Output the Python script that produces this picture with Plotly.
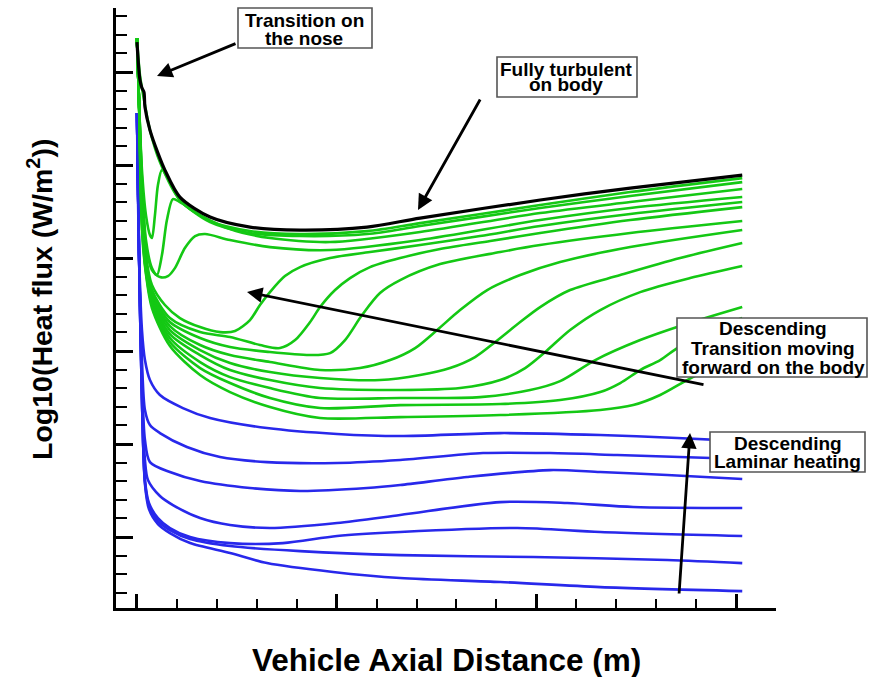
import plotly.graph_objects as go

# ---------------- data (x: axial distance, y: log10 heat flux) ----------------
# fully turbulent body
turb_x = [0, 0.015, 0.025, 0.035, 0.040, 0.065, 0.105, 0.140, 0.215, 0.366, 0.566, 0.817, 1.152, 1.418, 2.019, 2.470, 3.031]
turb_y = [8.323, 7.914, 7.828, 7.785, 7.624, 7.376, 7.129, 6.946, 6.656, 6.441, 6.333, 6.301, 6.333, 6.430, 6.624, 6.753, 6.892]

# transitional cases, transition point moving aft
g0_x = [0, 0.015, 0.040, 0.065, 0.115, 0.215, 0.366, 0.566, 0.817, 1.152, 1.418, 2.019, 2.470, 3.031]
g0_y = [8.366, 7.968, 7.645, 7.376, 7.032, 6.624, 6.398, 6.290, 6.258, 6.290, 6.376, 6.570, 6.710, 6.860]

g1_x = [0, 0.010, 0.025, 0.045, 0.065, 0.075, 0.090, 0.105, 0.125, 0.155, 0.215, 0.366, 0.566, 0.817, 1.152, 1.418, 2.019, 2.470, 3.031]
g1_y = [8.366, 7.699, 6.946, 6.462, 6.247, 6.215, 6.462, 6.785, 6.946, 6.860, 6.624, 6.387, 6.269, 6.237, 6.258, 6.344, 6.538, 6.667, 6.817]

g2_x = [0, 0.010, 0.025, 0.045, 0.075, 0.100, 0.125, 0.150, 0.180, 0.215, 0.316, 0.466, 0.666, 0.967, 1.418, 2.019, 2.470, 3.031]
g2_y = [8.366, 7.699, 6.839, 6.194, 5.892, 5.817, 6.032, 6.409, 6.634, 6.602, 6.462, 6.312, 6.215, 6.172, 6.280, 6.484, 6.602, 6.742]

g3_x = [0, 0.010, 0.025, 0.045, 0.075, 0.115, 0.155, 0.190, 0.240, 0.291, 0.341, 0.466, 0.666, 0.967, 1.418, 2.019, 2.470, 3.031]
g3_y = [8.366, 7.699, 6.839, 6.140, 5.871, 5.796, 5.806, 5.892, 6.108, 6.237, 6.258, 6.194, 6.118, 6.086, 6.194, 6.409, 6.538, 6.656]

g4_x = [0, 0.010, 0.025, 0.045, 0.075, 0.140, 0.215, 0.316, 0.416, 0.491, 0.566, 0.616, 0.666, 0.741, 0.817, 0.967, 1.167, 1.418, 1.718, 2.019, 2.470, 3.031]
g4_y = [8.366, 7.699, 6.731, 6.032, 5.710, 5.495, 5.355, 5.258, 5.204, 5.215, 5.333, 5.495, 5.634, 5.806, 5.903, 6.000, 6.065, 6.140, 6.237, 6.344, 6.473, 6.602]

g5_x = [0, 0.010, 0.025, 0.045, 0.075, 0.165, 0.316, 0.466, 0.616, 0.716, 0.792, 0.867, 0.917, 0.992, 1.067, 1.167, 1.318, 1.518, 1.769, 2.019, 2.470, 3.031]
g5_y = [8.366, 7.699, 6.677, 5.978, 5.656, 5.355, 5.204, 5.151, 5.065, 5.032, 5.118, 5.312, 5.473, 5.656, 5.785, 5.903, 6.000, 6.097, 6.183, 6.269, 6.409, 6.548]

g6_x = [0, 0.010, 0.025, 0.045, 0.075, 0.165, 0.316, 0.466, 0.666, 0.867, 0.967, 1.042, 1.127, 1.217, 1.318, 1.518, 1.819, 2.019, 2.470, 3.031]
g6_y = [8.366, 7.699, 6.624, 5.957, 5.634, 5.312, 5.140, 5.043, 4.989, 4.957, 4.978, 5.118, 5.387, 5.624, 5.763, 5.935, 6.065, 6.140, 6.269, 6.398]

g7_x = [0, 0.010, 0.025, 0.045, 0.075, 0.165, 0.316, 0.466, 0.666, 0.917, 1.117, 1.268, 1.393, 1.503, 1.618, 1.754, 1.919, 2.119, 2.470, 3.031]
g7_y = [8.366, 7.699, 6.570, 5.935, 5.602, 5.269, 5.065, 4.957, 4.882, 4.796, 4.817, 4.903, 5.032, 5.226, 5.441, 5.656, 5.817, 5.957, 6.118, 6.301]

g8_x = [0, 0.010, 0.025, 0.045, 0.075, 0.165, 0.316, 0.466, 0.666, 0.917, 1.217, 1.418, 1.568, 1.693, 1.794, 1.919, 2.019, 2.169, 2.420, 2.720, 3.031]
g8_y = [8.366, 7.699, 6.516, 5.914, 5.570, 5.226, 5.011, 4.871, 4.774, 4.710, 4.688, 4.742, 4.817, 4.935, 5.097, 5.312, 5.473, 5.656, 5.817, 6.000, 6.161]

g9_x = [0, 0.010, 0.025, 0.045, 0.075, 0.165, 0.316, 0.466, 0.666, 0.917, 1.318, 1.618, 1.819, 1.944, 2.044, 2.169, 2.320, 2.520, 2.770, 3.031]
g9_y = [8.366, 7.699, 6.462, 5.892, 5.548, 5.183, 4.957, 4.796, 4.688, 4.602, 4.581, 4.602, 4.688, 4.817, 4.989, 5.226, 5.441, 5.634, 5.785, 5.914]

g10_x = [0, 0.010, 0.025, 0.045, 0.075, 0.165, 0.316, 0.466, 0.666, 0.917, 1.318, 1.718, 1.969, 2.119, 2.295, 2.520, 2.735, 3.031]
g10_y = [8.366, 7.699, 6.409, 5.871, 5.527, 5.140, 4.882, 4.720, 4.602, 4.495, 4.495, 4.505, 4.581, 4.677, 4.903, 5.118, 5.280, 5.473]

g11_x = [0, 0.010, 0.025, 0.045, 0.075, 0.165, 0.316, 0.466, 0.666, 0.917, 1.318, 1.819, 2.119, 2.320, 2.420, 2.520, 2.620, 2.705, 2.821, 3.031]
g11_y = [8.366, 7.699, 6.355, 5.849, 5.495, 5.097, 4.817, 4.656, 4.495, 4.387, 4.419, 4.430, 4.473, 4.559, 4.656, 4.796, 4.903, 5.032, 5.172, 5.355]

g12_x = [0, 0.010, 0.025, 0.045, 0.075, 0.165, 0.316, 0.466, 0.666, 0.917, 1.318, 1.819, 2.320, 2.485, 2.620, 2.755, 2.871, 3.031]
g12_y = [8.366, 7.699, 6.301, 5.828, 5.462, 5.054, 4.742, 4.559, 4.398, 4.280, 4.290, 4.312, 4.366, 4.419, 4.527, 4.688, 4.817, 4.989]

# laminar cases, descending
b1_x = [0, 0.010, 0.025, 0.040, 0.065, 0.115, 0.230, 0.366, 0.651, 1.002, 1.318, 1.819, 2.320, 2.705, 3.031]
b1_y = [7.559, 6.086, 5.226, 4.903, 4.688, 4.527, 4.387, 4.280, 4.172, 4.108, 4.086, 4.118, 4.097, 4.065, 4.032]

b2_x = [0, 0.010, 0.025, 0.040, 0.065, 0.115, 0.250, 0.416, 0.651, 1.002, 1.318, 1.733, 2.069, 2.405, 3.031]
b2_y = [7.559, 6.086, 4.903, 4.366, 4.204, 4.118, 3.968, 3.860, 3.806, 3.796, 3.828, 3.903, 3.903, 3.882, 3.839]

b3_x = [0, 0.010, 0.025, 0.040, 0.065, 0.165, 0.316, 0.566, 0.817, 1.152, 1.318, 1.653, 2.069, 2.320, 2.655, 3.031]
b3_y = [7.559, 6.086, 4.688, 4.043, 3.806, 3.699, 3.602, 3.527, 3.495, 3.527, 3.559, 3.645, 3.720, 3.699, 3.667, 3.624]

b4_x = [0, 0.010, 0.025, 0.040, 0.055, 0.115, 0.180, 0.316, 0.466, 0.666, 1.002, 1.318, 1.819, 2.154, 2.485, 3.031]
b4_y = [7.559, 6.086, 4.581, 3.828, 3.613, 3.441, 3.344, 3.204, 3.129, 3.097, 3.151, 3.237, 3.376, 3.366, 3.323, 3.312]

b5_x = [0, 0.010, 0.025, 0.040, 0.060, 0.105, 0.165, 0.266, 0.466, 0.731, 1.002, 1.318, 1.904, 2.320, 3.031]
b5_y = [7.559, 6.086, 4.473, 3.613, 3.366, 3.204, 3.097, 3.000, 2.935, 2.935, 3.011, 3.054, 3.097, 3.054, 3.011]

b6_x = [0, 0.010, 0.025, 0.040, 0.060, 0.105, 0.165, 0.266, 0.466, 0.817, 1.318, 1.984, 2.655, 3.031]
b6_y = [7.559, 6.086, 4.473, 3.591, 3.333, 3.172, 3.075, 2.978, 2.903, 2.849, 2.806, 2.785, 2.753, 2.720]

b7_x = [0, 0.010, 0.025, 0.040, 0.060, 0.105, 0.165, 0.266, 0.466, 0.651, 0.982, 1.318, 1.819, 2.320, 3.031]
b7_y = [7.559, 6.086, 4.473, 3.570, 3.301, 3.140, 3.043, 2.935, 2.828, 2.720, 2.624, 2.559, 2.516, 2.462, 2.419]

laminar_cases = [(b1_x, b1_y), (b2_x, b2_y), (b3_x, b3_y), (b4_x, b4_y),
                 (b5_x, b5_y), (b6_x, b6_y), (b7_x, b7_y)]
transition_cases = [(g0_x, g0_y), (g1_x, g1_y), (g2_x, g2_y), (g3_x, g3_y),
                    (g4_x, g4_y), (g5_x, g5_y), (g6_x, g6_y), (g7_x, g7_y),
                    (g8_x, g8_y), (g9_x, g9_y), (g10_x, g10_y), (g11_x, g11_y),
                    (g12_x, g12_y)]

BLUE = "rgb(40,40,235)"
GREEN = "rgb(20,200,20)"
FONT = "Liberation Sans, Arial, Helvetica, sans-serif"

fig = go.Figure()
for xs, ys in laminar_cases:
    fig.add_trace(go.Scatter(x=xs, y=ys, mode="lines",
                             line=dict(color=BLUE, width=2.6, shape="spline", smoothing=0.8),
                             hoverinfo="skip"))
for xs, ys in transition_cases:
    fig.add_trace(go.Scatter(x=xs, y=ys, mode="lines",
                             line=dict(color=GREEN, width=2.6, shape="spline", smoothing=0.8),
                             hoverinfo="skip"))
fig.add_trace(go.Scatter(x=turb_x, y=turb_y, mode="lines",
                         line=dict(color="black", width=3.2, shape="spline", smoothing=0.8),
                         hoverinfo="skip"))

# ---------------- layout helpers (page pixels -> paper coordinates) ----------------
ML, MT, PW, PH = 116, 8, 660, 600


def fx(px):
    return (px - ML) / PW


def fy(py):
    return (MT + PH - py) / PH


shapes = []
annotations = []


def callout(box, lines, cx, line_ys, size=19):
    x0, y0, x1, y1 = box
    shapes.append(dict(type="rect", xref="paper", yref="paper",
                       x0=fx(x0), x1=fx(x1), y0=fy(y1), y1=fy(y0),
                       fillcolor="white", line=dict(color="#555555", width=1.6),
                       layer="above"))
    for txt, ly in zip(lines, line_ys):
        annotations.append(dict(xref="paper", yref="paper", x=fx(cx), y=fy(ly),
                                xanchor="center", yanchor="middle", showarrow=False,
                                text="<b>%s</b>" % txt,
                                font=dict(family=FONT, size=size, color="black")))


def arrow(head, tail):
    annotations.append(dict(xref="paper", yref="paper", x=fx(head[0]), y=fy(head[1]),
                            ax=tail[0] - head[0], ay=tail[1] - head[1],
                            axref="pixel", ayref="pixel",
                            text="", showarrow=True, arrowhead=2, arrowsize=1.1,
                            arrowwidth=2.8, arrowcolor="black", standoff=0))


callout((238, 8, 372, 48), ["Transition on", "the nose"], 304, [20, 38])
callout((497, 57, 637, 97), ["Fully turbulent", "on body"], 566, [69, 84])
callout((677, 318, 867, 377), ["Descending", "Transition moving", "forward on the body"], 773, [329, 348, 367])
callout((710, 432, 865, 472), ["Descending", "Laminar heating"], 788, [443, 462])

arrow((157, 76), (237, 43))
arrow((418, 210), (481, 98))
arrow((247, 292), (705, 385))
arrow((690, 433), (679, 595))

# axis titles
annotations.append(dict(xref="paper", yref="paper", x=fx(446), y=fy(660),
                        xanchor="center", yanchor="middle", showarrow=False,
                        text="<b>Vehicle Axial Distance (m)</b>",
                        font=dict(family=FONT, size=31.5, color="black")))
annotations.append(dict(xref="paper", yref="paper", x=fx(40), y=fy(300),
                        xanchor="center", yanchor="middle", showarrow=False, textangle=-90,
                        text="<b>Log10(Heat flux (W/m<sup>2</sup>))</b>",
                        font=dict(family=FONT, size=28.5, color="black")))

axis_common = dict(showgrid=False, zeroline=False, showticklabels=False,
                   showline=True, linewidth=3, linecolor="black",
                   ticks="inside", tickwidth=3, tickcolor="black", dtick=1, tick0=0)

fig.update_layout(
    width=871, height=677,
    margin=dict(l=ML, r=871 - ML - PW, t=MT, b=677 - MT - PH),
    paper_bgcolor="white", plot_bgcolor="white",
    showlegend=False,
    xaxis=dict(range=[-0.105, 3.2], ticklen=14,
               minor=dict(ticks="inside", ticklen=9, tickwidth=1.5, dtick=0.2, tick0=0,
                          tickcolor="black"),
               **axis_common),
    yaxis=dict(range=[2.237, 8.689], ticklen=17,
               minor=dict(ticks="inside", ticklen=11, tickwidth=1.5, dtick=0.2, tick0=0,
                          tickcolor="black"),
               **axis_common),
    shapes=shapes,
    annotations=annotations,
)

fig.write_html("out.html")
